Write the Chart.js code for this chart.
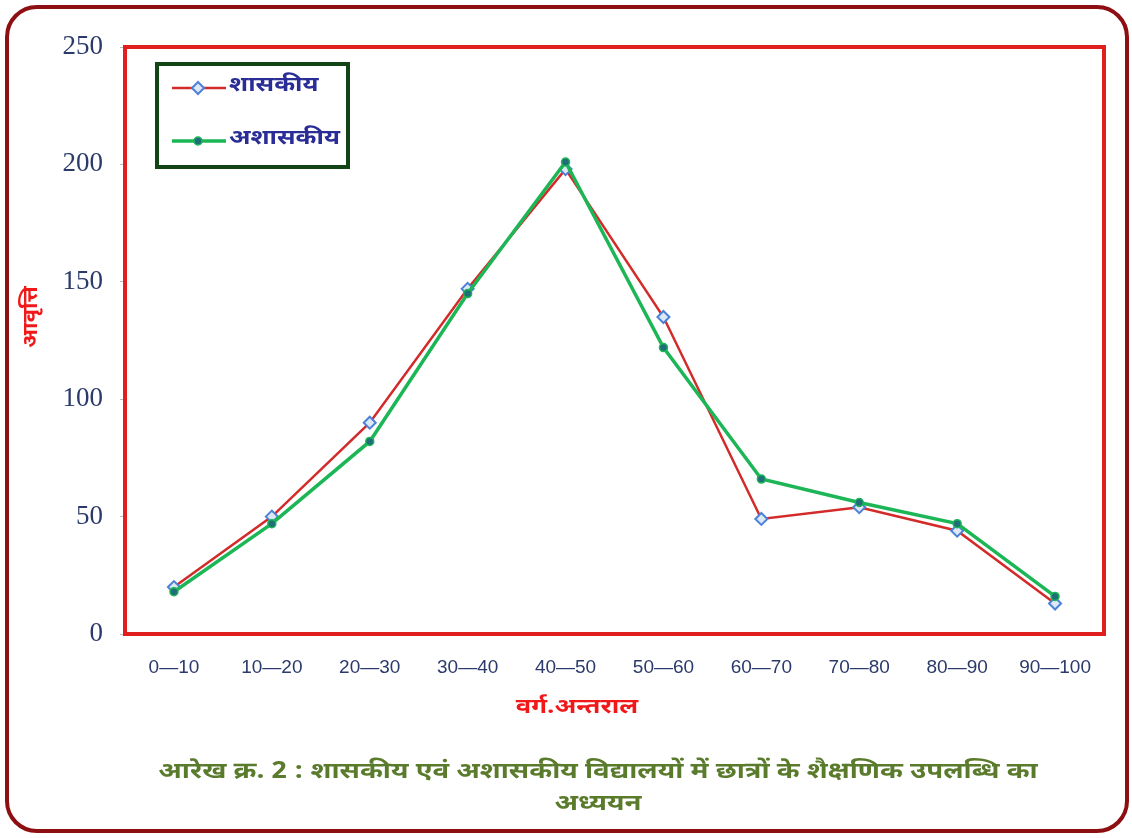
<!DOCTYPE html>
<html>
<head>
<meta charset="utf-8">
<script src="https://cdn.jsdelivr.net/npm/chart.js@4.4.0/dist/chart.umd.min.js"></script>
<style>
  html, body { margin: 0; padding: 0; background: #ffffff; }
  #wrap { width: 1132px; height: 838px; }
</style>
</head>
<body>
<div id="wrap"><canvas id="c" width="1132" height="838"></canvas></div>
<script>
// Class intervals (marks obtained) and frequencies for the two school types
const categories = ['0—10', '10—20', '20—30', '30—40', '40—50', '50—60', '60—70', '70—80', '80—90', '90—100'];
const governmentValues = [20, 50, 90, 147, 198, 135, 49, 54, 44, 13];
const privateValues = [18, 47, 82, 145, 201, 122, 66, 56, 47, 16];
const yTicks = [0, 50, 100, 150, 200, 250];

const seriesNames = ['शासकीय', 'अशासकीय'];
const yTitle = 'आवृत्ति';
const xTitle = 'वर्ग.अन्तराल';
const captionLines = [
  'आरेख क्र. 2 : शासकीय एवं अशासकीय विद्यालयों में छात्रों के शैक्षणिक उपलब्धि का',
  'अध्ययन'
];

const DEVA = "'Noto Sans Devanagari', 'Lohit Devanagari', 'Noto Sans', 'FreeSans', sans-serif";

// Devanagari text in a slightly widened face
function wideText(ctx, text, x, y, font, color, stretch, align) {
  ctx.save();
  ctx.font = font;
  ctx.fillStyle = color;
  ctx.textAlign = align || 'center';
  ctx.textBaseline = 'middle';
  ctx.translate(x, y);
  ctx.scale(stretch, 1);
  ctx.fillText(text, 0, 0);
  ctx.restore();
}

// Page frame, plot frame, axis titles, caption and boxed legend
const decorations = {
  id: 'decorations',
  beforeDraw(chart) {
    const ctx = chart.ctx;
    ctx.save();
    ctx.fillStyle = '#ffffff';
    ctx.fillRect(0, 0, chart.width, chart.height);
    ctx.beginPath();
    ctx.roundRect(7, 7, 1120, 824, 30);
    ctx.lineWidth = 4;
    ctx.strokeStyle = '#8E0F12';
    ctx.stroke();
    ctx.restore();
  },
  beforeDatasetsDraw(chart) {
    const { ctx, chartArea: a } = chart;
    ctx.save();
    ctx.lineWidth = 4;
    ctx.strokeStyle = '#E01E1E';
    ctx.strokeRect(a.left, a.top, a.right - a.left, a.bottom - a.top);
    ctx.restore();
  },
  afterDraw(chart) {
    const ctx = chart.ctx;
    // y axis title
    ctx.save();
    ctx.translate(33, 317);
    ctx.rotate(-Math.PI / 2);
    wideText(ctx, yTitle, 0, 0, 'bold 21px ' + DEVA, '#F01818', 1.05);
    ctx.restore();

    // x axis title
    wideText(ctx, xTitle, 577, 709, 'bold 21px ' + DEVA, '#F01818', 1.22);

    // caption
    wideText(ctx, captionLines[0], 598, 774, 'bold 23px ' + DEVA, '#5A7A2C', 1.2);
    wideText(ctx, captionLines[1], 598, 806, 'bold 23px ' + DEVA, '#5A7A2C', 1.2);

    // legend box
    ctx.save();
    ctx.lineWidth = 4;
    ctx.strokeStyle = '#134416';
    ctx.strokeRect(157, 64, 191, 103);
    const rows = [88, 141];
    chart.data.datasets.forEach((ds, i) => {
      const y = rows[i];
      ctx.beginPath();
      ctx.moveTo(172, y);
      ctx.lineTo(226, y);
      ctx.lineWidth = ds.borderWidth;
      ctx.strokeStyle = ds.borderColor;
      ctx.stroke();
      ctx.beginPath();
      if (ds.pointStyle === 'rectRot') {
        const r = ds.pointRadius;
        ctx.moveTo(198, y - r);
        ctx.lineTo(198 + r, y);
        ctx.lineTo(198, y + r);
        ctx.lineTo(198 - r, y);
        ctx.closePath();
      } else {
        ctx.arc(198, y, ds.pointRadius, 0, Math.PI * 2);
      }
      ctx.fillStyle = ds.pointBackgroundColor;
      ctx.fill();
      ctx.lineWidth = ds.pointBorderWidth;
      ctx.strokeStyle = ds.pointBorderColor;
      ctx.stroke();
      wideText(ctx, ds.label, 229, y - 1, 'bold 21px ' + DEVA, '#2A2D96', 1.2, 'left');
    });
    ctx.restore();
  }
};

new Chart(document.getElementById('c'), {
  type: 'line',
  data: {
    labels: categories,
    datasets: [
      {
        label: seriesNames[0],
        data: governmentValues,
        borderColor: '#D32A2A',
        borderWidth: 2.5,
        pointStyle: 'rectRot',
        pointRadius: 6,
        pointBackgroundColor: '#DDE8F7',
        pointBorderColor: '#4C82D6',
        pointBorderWidth: 2,
        tension: 0,
        order: 2
      },
      {
        label: seriesNames[1],
        data: privateValues,
        borderColor: '#1DB656',
        borderWidth: 3.5,
        pointStyle: 'circle',
        pointRadius: 4,
        pointBackgroundColor: '#1F6F78',
        pointBorderColor: '#1DB656',
        pointBorderWidth: 1.5,
        tension: 0,
        order: 1
      }
    ]
  },
  options: {
    responsive: false,
    animation: false,
    devicePixelRatio: 1,
    layout: { padding: { left: 0, top: 47, right: 28, bottom: 164 } },
    plugins: {
      legend: { display: false },
      tooltip: { enabled: false }
    },
    scales: {
      x: {
        offset: true,
        grid: { display: false, drawTicks: false },
        border: { display: false },
        ticks: {
          color: '#2B3A6B',
          font: { family: "'Liberation Sans', Arial, sans-serif", size: 19 },
          padding: 22,
          maxRotation: 0,
          autoSkip: false
        },
        afterFit(scale) { scale.height = 40; }
      },
      y: {
        min: 0,
        max: 250,
        afterBuildTicks(scale) { scale.ticks = yTicks.map(v => ({ value: v })); },
        grid: { drawOnChartArea: false, drawTicks: true, tickLength: 5, color: '#BBBBBB' },
        border: { display: false },
        ticks: {
          color: '#2B3A6B',
          font: { family: "'Liberation Serif', 'Times New Roman', serif", size: 27 },
          padding: 17
        },
        afterFit(scale) { scale.width = 125; }
      }
    }
  },
  plugins: [decorations]
});
</script>
</body>
</html>
